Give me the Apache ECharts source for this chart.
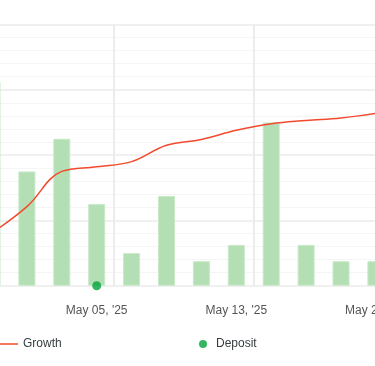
<!DOCTYPE html>
<html>
<head>
<meta charset="utf-8">
<script src="https://cdn.jsdelivr.net/npm/echarts@6/dist/echarts.min.js"></script>
<style>
html,body{margin:0;padding:0;background:#fff;}
#chart{width:375px;height:366px;}
</style>
</head>
<body>
<div id="chart"></div>
<script>
// Data
var categories = ["Apr 29, '25", "May 01, '25", "May 03, '25", "May 05, '25", "May 07, '25", "May 09, '25",
                  "May 11, '25", "May 13, '25", "May 15, '25", "May 17, '25", "May 19, '25", "May 21, '25"];
var growth = [8.1, 12.1, 17.5, 18.2, 19.0, 21.5, 22.4, 23.8, 24.8, 25.3, 25.7, 26.4];
var volume = [25, 14, 18, 10, 4, 11, 3, 5, 20, 5, 3, 3];
var deposit = [null, null, null, 0, null, null, null, null, null, null, null, null];
var growthTicks = [0, 10, 20, 30, 40];

var FONT = "'Liberation Sans', Arial, sans-serif";
var chart = echarts.init(document.getElementById('chart'), null, {renderer: 'canvas'});
chart.setOption({
  animation: false,
  backgroundColor: '#ffffff',
  grid: {left: -25.45, right: -18.35, top: 24.5, bottom: 80.3, outerBoundsMode: 'none', containLabel: false},
  legend: [{
    left: -12, top: 332, itemWidth: 25, itemHeight: 1.5, icon: 'rect',
    data: ['Growth'],
    textStyle: {color: '#373d3f', fontSize: 12, fontFamily: FONT, lineHeight: 14}
  }, {
    left: 194, top: 332, itemWidth: 16, itemHeight: 8, icon: 'circle',
    data: ['Deposit'],
    textStyle: {color: '#373d3f', fontSize: 12, fontFamily: FONT, lineHeight: 14}
  }],
  xAxis: {
    type: 'category',
    data: categories,
    boundaryGap: true,
    axisLine: {show: false},
    axisTick: {show: false},
    axisLabel: {
      interval: function (i) { return i % 4 === 3; },
      color: '#555555', fontSize: 12, fontFamily: FONT, margin: 19
    },
    splitLine: {
      show: true,
      interval: function (i) { return i % 4 === 0; },
      lineStyle: {color: '#ececec', width: 2}
    }
  },
  yAxis: [{
    type: 'value',
    min: growthTicks[0], max: growthTicks[growthTicks.length - 1], interval: 10,
    axisLine: {show: false}, axisTick: {show: false}, axisLabel: {show: false},
    splitLine: {show: true, lineStyle: {color: '#ebebeb', width: 1.5}},
    minorTick: {show: false, splitNumber: 5},
    minorSplitLine: {show: true, lineStyle: {color: '#f5f5f5', width: 1}}
  }, {
    type: 'value', min: 0, max: 32,
    show: false,
    splitLine: {show: false}
  }],
  series: [{
    name: 'Volume',
    type: 'bar',
    yAxisIndex: 1,
    data: volume,
    barWidth: 17,
    itemStyle: {color: '#b4dfb4', borderColor: '#c9e9c9', borderWidth: 1},
    z: 1
  }, {
    name: 'Growth',
    type: 'line',
    data: growth,
    smooth: 0.4,
    showSymbol: false,
    symbol: 'none',
    lineStyle: {color: '#f24a2e', width: 1.5},
    itemStyle: {color: '#f24a2e'},
    z: 3
  }, {
    name: 'Deposit',
    type: 'scatter',
    data: deposit,
    symbol: 'circle',
    symbolSize: 9,
    itemStyle: {color: '#00a33a'},
    z: 4
  }]
});
</script>
</body>
</html>
